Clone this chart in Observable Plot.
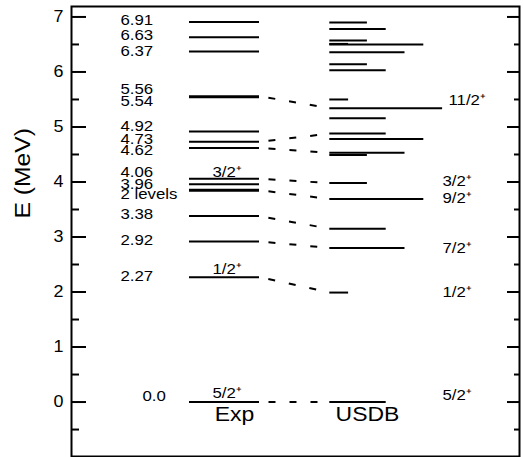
<!DOCTYPE html>
<html>
<head>
<meta charset="utf-8">
<script src="https://cdn.jsdelivr.net/npm/d3@7"></script>
<script src="https://cdn.jsdelivr.net/npm/@observablehq/plot@0.6"></script>
<style>
  html, body { margin: 0; padding: 0; background: #fff; }
</style>
</head>
<body>
<div id="chart"></div>
<script>
// ---- data (energies in MeV) ----
const expEnergies = [0, 2.27, 2.92, 3.38, 3.84, 3.86, 3.96, 4.06, 4.62, 4.73, 4.92, 5.54, 5.56, 6.37, 6.63, 6.91];
const expLabelText = ["6.91", "6.63", "6.37", "5.56", "5.54", "4.92", "4.73", "4.62", "4.06", "3.96", "2 levels", "3.38", "2.92", "2.27", "0.0"];
const expLabelE    = [6.94, 6.66, 6.38, 5.69, 5.47, 5.01, 4.78, 4.58, 4.18, 3.96, 3.78, 3.41, 2.94, 2.28, 0.10];
const expSpinText  = ["3/2⁺", "1/2⁺", "5/2⁺"];
const expSpinE     = [4.17, 2.41, 0.16];

const usdbEnergies = [6.90, 6.78, 6.57, 6.51, 6.50, 6.36, 6.14, 6.03, 5.50, 5.34, 5.16, 4.88, 4.78, 4.53, 4.49, 3.98, 3.69, 3.15, 2.80, 1.99, 0];
const usdbTwoJ     = [3, 5, 3, 1, 9, 7, 3, 5, 1, 11, 5, 5, 9, 7, 3, 3, 9, 5, 7, 1, 5];
const usdbSpinText = ["11/2⁺", "3/2⁺", "9/2⁺", "7/2⁺", "1/2⁺", "5/2⁺"];
const usdbSpinE    = [5.49, 4.01, 3.71, 2.80, 2.00, 0.12];

const linkExpE  = [0, 2.27, 2.92, 3.38, 3.85, 4.06, 4.62, 4.73, 5.56];
const linkUsdbE = [0, 1.99, 2.80, 3.15, 3.69, 3.98, 4.53, 4.88, 5.34];

const majorTicks = [0, 1, 2, 3, 4, 5, 6, 7];
const minorTicks = [-0.5, 0.5, 1.5, 2.5, 3.5, 4.5, 5.5, 6.5];
const columnNames = ["Exp", "USDB"];
const yLabel = "E (MeV)";

// ---- layout ----
const L = { left: 71, right: 519, expX1: 189, expX2: 259, usdbX1: 329.3, unit: 9.4,
            labelX: 120, zeroLabelX: 142, spinX: 212, rightSpinX: 442, colX: [234, 367] };
const font = "'Liberation Sans', Arial, Helvetica, sans-serif";

const usdb = usdbEnergies.map((e, i) => ({ e, twoJ: usdbTwoJ[i] }));
const links = linkExpE.map((e, i) => ({ a: e, b: linkUsdbE[i] }));
const expLabels = expLabelText.map((t, i) => ({ t, e: expLabelE[i] }));
const expSpins = expSpinText.map((t, i) => ({ t, e: expSpinE[i] }));
const usdbSpins = usdbSpinText.map((t, i) => ({ t, e: usdbSpinE[i] }));

const chart = Plot.plot({
  width: 524,
  height: 457,
  marginLeft: 71,
  marginRight: 5,
  marginTop: 6,
  marginBottom: 1,
  style: { fontFamily: font, background: "#fff", overflow: "visible" },
  x: { domain: [L.left, L.right], axis: null },
  y: { domain: [-0.99, 7.19], axis: null },
  marks: [
    // ticks
    Plot.ruleY(majorTicks, { y: d => d, x1: L.left, x2: L.left + 15, strokeWidth: 2 }),
    Plot.ruleY(minorTicks, { y: d => d, x1: L.left, x2: L.left + 8, strokeWidth: 2 }),
    Plot.ruleY(majorTicks, { y: d => d, x1: L.right - 12, x2: L.right, strokeWidth: 2 }),
    Plot.ruleY(minorTicks, { y: d => d, x1: L.right - 5, x2: L.right, strokeWidth: 2 }),
    Plot.text(majorTicks, { y: d => d, x: 63, text: d => String(d), textAnchor: "end", fontSize: 16 }),
    // axis label
    Plot.text([yLabel], { text: d => d, frameAnchor: "left", rotate: -90, dx: -49, dy: -13, fontSize: 22 }),
    // experimental levels
    Plot.ruleY(expEnergies, { y: d => d, x1: L.expX1, x2: L.expX2, strokeWidth: 2 }),
    Plot.text(expLabels, { y: "e", x: d => d.t === "0.0" ? L.zeroLabelX : L.labelX, text: "t", textAnchor: "start", fontSize: 15 }),
    Plot.text(expSpins, { y: "e", x: L.spinX, text: "t", textAnchor: "start", fontSize: 15 }),
    // USDB levels
    Plot.ruleY(usdb, { y: "e", x1: L.usdbX1, x2: d => L.usdbX1 + L.unit * (d.twoJ + 1), strokeWidth: 2 }),
    Plot.text(usdbSpins, { y: "e", x: d => d.t.startsWith("11") ? L.rightSpinX + 6 : L.rightSpinX, text: "t", textAnchor: "start", fontSize: 15 }),
    // dashed connections
    Plot.link(links, { x1: L.expX2, x2: L.usdbX1, y1: "a", y2: "b", strokeWidth: 2, strokeDasharray: "0,9,7,14,7,14,7,100" }),
    // column names
    Plot.text(columnNames, { x: (d, i) => L.colX[i], text: d => d, frameAnchor: "bottom", dy: -36, fontSize: 20.5 }),
    Plot.frame({ stroke: "black", strokeWidth: 2 })
  ]
});

document.getElementById("chart").appendChild(chart);

// slightly widen glyphs to match the reference's wide sans-serif
d3.select(chart).selectAll("text").each(function () {
  const w = this.getComputedTextLength();
  if (w > 0) {
    this.setAttribute("textLength", (w * 1.12).toFixed(2));
    this.setAttribute("lengthAdjust", "spacingAndGlyphs");
  }
});
</script>
</body>
</html>
